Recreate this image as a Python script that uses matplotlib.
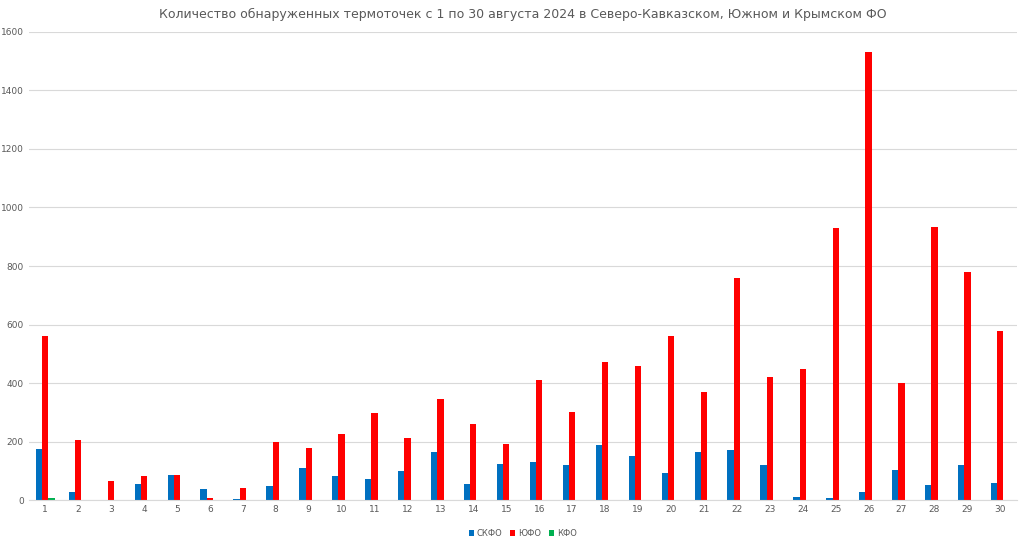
import numpy as np
import matplotlib
matplotlib.use('Agg')
import matplotlib.pyplot as plt

days = list(range(1, 31))
skfo = [175, 30, 3, 55, 88, 40, 5, 48, 110, 82, 72, 100, 165, 55, 125,
        133, 120, 188, 152, 95, 165, 172, 120, 12, 8, 28, 103, 53, 122, 58]
ufo = [560, 205, 68, 85, 88, 10, 42, 200, 180, 228, 300, 213, 345, 262, 192,
       412, 302, 472, 460, 560, 370, 760, 420, 448, 930, 1530, 400, 935, 780, 580]
kfo = [8] + [0] * 29

fig = plt.figure(figsize=(10.24, 5.37), dpi=100)
ax = fig.add_axes([0.028, 0.068, 0.965, 0.873])

x = np.arange(len(days))
w = 0.19
ax.bar(x - w, skfo, w, color='#0070C0', label='СКФО')
ax.bar(x, ufo, w, color='#FF0000', label='ЮФО')
ax.bar(x + w, kfo, w, color='#00B050', label='КФО')

ax.set_xlim(-0.5, len(days) - 0.5)
ax.set_ylim(0, 1600)
ax.set_yticks(range(0, 1601, 200))
ax.set_xticks(x)
ax.set_xticklabels([str(d) for d in days])
ax.tick_params(labelsize=6.5, colors='#595959', length=0)
ax.grid(axis='y', color='#D9D9D9', linewidth=0.8)
ax.set_axisbelow(True)
for s in ['top', 'right', 'left']:
    ax.spines[s].set_visible(False)
ax.spines['bottom'].set_color('#D9D9D9')

# title
ax.set_title('Количество обнаруженных термоточек с 1 по 30 августа 2024 в Северо-Кавказском, Южном и Крымском ФО',
             fontsize=9, color='#595959', pad=10)
ax.legend(loc='upper center', bbox_to_anchor=(0.5, -0.045), ncol=3, frameon=False,
          fontsize=6, handlelength=0.6, handleheight=0.6, columnspacing=1.0,
          handletextpad=0.3, labelcolor='#595959')

fig.savefig('out.png')
